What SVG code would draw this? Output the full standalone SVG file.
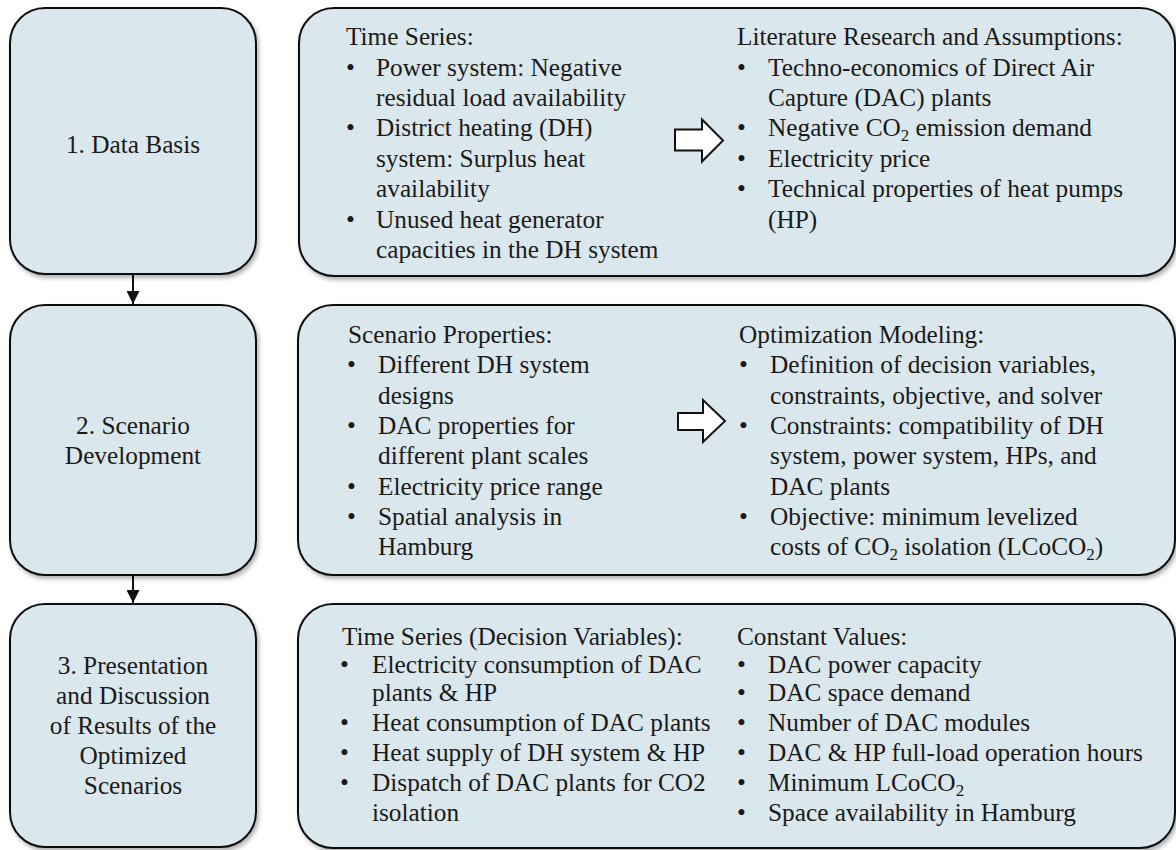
<svg xmlns="http://www.w3.org/2000/svg" width="1176" height="850" viewBox="0 0 1176 850" font-family="'Liberation Serif', Tinos, 'Times New Roman', 'DejaVu Serif', 'Noto Serif', serif">
<style>
.box{fill:#dae7ec;stroke:#111;stroke-width:2;filter:url(#sh)}
text{font-family:'Liberation Serif', Tinos, 'Times New Roman', 'DejaVu Serif', 'Noto Serif', serif;font-size:25.3px;fill:#1a1a1a}
.c{text-anchor:middle}
.conn{stroke:#111;stroke-width:2;fill:none}
.blk{fill:#fff;stroke:#111;stroke-width:2;stroke-linejoin:miter}
.sub{font-size:17px}
</style>
<defs>
<filter id="sh" x="-5%" y="-5%" width="110%" height="115%">
<feDropShadow dx="2" dy="3" stdDeviation="2" flood-color="#000" flood-opacity="0.3"/>
</filter>
<marker id="ah" viewBox="0 0 10 10" refX="10" refY="5" markerWidth="13" markerHeight="13" markerUnits="userSpaceOnUse" orient="auto">
<path d="M0,0 L10,5 L0,10 z" fill="#111"/>
</marker>
</defs>

<g id="connectors">
<line class="conn" x1="133" y1="275" x2="133" y2="304" marker-end="url(#ah)"/>
<line class="conn" x1="133" y1="576" x2="133" y2="603" marker-end="url(#ah)"/>
</g>

<g id="step1">
<rect class="box" x="10" y="8" width="246" height="266" rx="35" ry="35"/>
<text class="c" x="133" y="153">1. Data Basis</text>
</g>

<g id="step2">
<rect class="box" x="10" y="305" width="246" height="270" rx="35" ry="35"/>
<text class="c" x="133" y="434">2. Scenario</text>
<text class="c" x="133" y="464">Development</text>
</g>

<g id="step3">
<rect class="box" x="10" y="604" width="246" height="243" rx="35" ry="35"/>
<text class="c" x="133" y="674">3. Presentation</text>
<text class="c" x="133" y="704">and Discussion</text>
<text class="c" x="133" y="734">of Results of the</text>
<text class="c" x="133" y="764">Optimized</text>
<text class="c" x="133" y="794">Scenarios</text>
</g>

<g id="detail1">
<rect class="box" x="299" y="8" width="876" height="268" rx="35" ry="35"/>
<text x="346" y="45">Time Series:</text>
<text x="346" y="75.5">•</text><text x="376" y="75.5">Power system: Negative</text>
<text x="376" y="106">residual load availability</text>
<text x="346" y="136">•</text><text x="376" y="136">District heating (DH)</text>
<text x="376" y="167">system: Surplus heat</text>
<text x="376" y="197">availability</text>
<text x="346" y="228">•</text><text x="376" y="228">Unused heat generator</text>
<text x="376" y="258">capacities in the DH system</text>
<polygon class="blk" points="675,129.5 702,129.5 702,119.5 723,140.5 702,161.5 702,150.5 675,150.5"/>
<text x="737" y="45">Literature Research and Assumptions:</text>
<text x="737" y="75.5">•</text><text x="768" y="75.5">Techno-economics of Direct Air</text>
<text x="768" y="106">Capture (DAC) plants</text>
<text x="737" y="136">•</text><text x="768" y="136">Negative CO<tspan class="sub" dy="5">2</tspan><tspan dy="-5"> emission demand</tspan></text>
<text x="737" y="167">•</text><text x="768" y="167">Electricity price</text>
<text x="737" y="197">•</text><text x="768" y="197">Technical properties of heat pumps</text>
<text x="768" y="228">(HP)</text>
</g>

<g id="detail2">
<rect class="box" x="298" y="305" width="877" height="270" rx="35" ry="35"/>
<text x="348" y="343">Scenario Properties:</text>
<text x="347" y="373">•</text><text x="378" y="373">Different DH system</text>
<text x="378" y="403.5">designs</text>
<text x="347" y="434">•</text><text x="378" y="434">DAC properties for</text>
<text x="378" y="464">different plant scales</text>
<text x="347" y="494.5">•</text><text x="378" y="494.5">Electricity price range</text>
<text x="347" y="525">•</text><text x="378" y="525">Spatial analysis in</text>
<text x="378" y="555">Hamburg</text>
<polygon class="blk" points="678,413 703,413 703,400 725,421 703,442 703,430 678,430"/>
<text x="739" y="343">Optimization Modeling:</text>
<text x="739" y="373">•</text><text x="770" y="373">Definition of decision variables,</text>
<text x="770" y="403.5">constraints, objective, and solver</text>
<text x="739" y="434">•</text><text x="770" y="434">Constraints: compatibility of DH</text>
<text x="770" y="464">system, power system, HPs, and</text>
<text x="770" y="494.5">DAC plants</text>
<text x="739" y="525">•</text><text x="770" y="525">Objective: minimum levelized</text>
<text x="770" y="555">costs of CO<tspan class="sub" dy="5">2</tspan><tspan dy="-5"> isolation (LCoCO</tspan><tspan class="sub" dy="5">2</tspan><tspan dy="-5">)</tspan></text>
</g>

<g id="detail3">
<rect class="box" x="298" y="604" width="877" height="244" rx="35" ry="35"/>
<text x="342" y="645">Time Series (Decision Variables):</text>
<text x="340" y="673">•</text><text x="372" y="673">Electricity consumption of DAC</text>
<text x="372" y="701">plants &amp; HP</text>
<text x="340" y="731">•</text><text x="372" y="731">Heat consumption of DAC plants</text>
<text x="340" y="761">•</text><text x="372" y="761">Heat supply of DH system &amp; HP</text>
<text x="340" y="791">•</text><text x="372" y="791">Dispatch of DAC plants for CO2</text>
<text x="372" y="821">isolation</text>
<text x="737" y="645">Constant Values:</text>
<text x="737" y="673">•</text><text x="768" y="673">DAC power capacity</text>
<text x="737" y="701">•</text><text x="768" y="701">DAC space demand</text>
<text x="737" y="731">•</text><text x="768" y="731">Number of DAC modules</text>
<text x="737" y="761">•</text><text x="768" y="761">DAC &amp; HP full-load operation hours</text>
<text x="737" y="791">•</text><text x="768" y="791">Minimum LCoCO<tspan class="sub" dy="5">2</tspan></text>
<text x="737" y="821">•</text><text x="768" y="821">Space availability in Hamburg</text>
</g>
</svg>
